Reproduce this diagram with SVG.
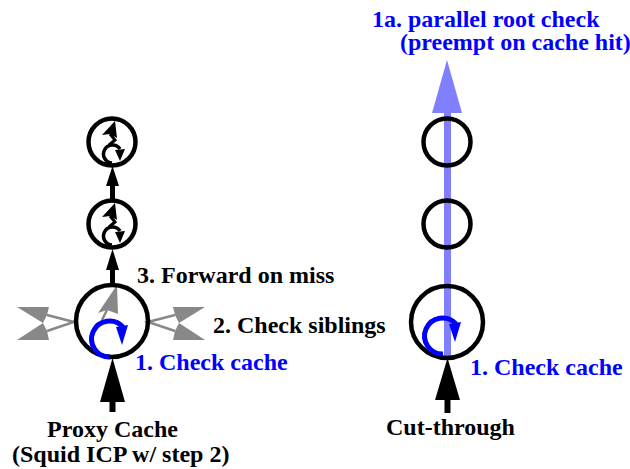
<svg xmlns="http://www.w3.org/2000/svg" xmlns:xlink="http://www.w3.org/1999/xlink" width="630" height="469" viewBox="0 0 630 469">
<style>
.ring{fill:none;stroke:#000;stroke-width:4.5}
.lbl{font-family:"Liberation Serif","Times New Roman",serif;font-weight:bold;font-size:24px;fill:#000}
.blue{fill:#0000ff}
.gray{fill:#888}
.gline{stroke:#888;stroke-width:2.5;fill:none}
.bshaft{stroke:#000;fill:none}
.loopB{fill:none;stroke:#0000ff;stroke-width:5}
.loopK{fill:none;stroke:#000;stroke-width:3.5}
</style>
<defs>
<g id="glyph">
<polygon points="3,-21 -10,-7 -2,-8 5,-4" fill="#000"/>
<polyline points="-2,-8 3,-2 -3,3" fill="none" stroke="#000" stroke-width="3"/>
<path class="loopK" d="M 0 21 A 9 9 0 1 1 8 7"/>
<polygon points="3,8 13,7 8,19" fill="#000"/>
</g>
<g id="bigglyph">
<path class="loopB" d="M 0 18 A 18 18 0 1 1 13 -12"/>
<polygon points="6,-12 18,-14 12,6" fill="#0000ff"/>
</g>
</defs>

<g id="connectors">
<polygon points="112.5,166 106,186 119,186" fill="#000"/>
<line class="bshaft" x1="112.5" y1="184" x2="112.5" y2="200" stroke-width="5"/>
<polygon points="112.5,249 106,270 119,270" fill="#000"/>
<line class="bshaft" x1="112.5" y1="268" x2="112.5" y2="284" stroke-width="5"/>
<polygon points="112.5,358 100,402 125,402" fill="#000"/>
<line class="bshaft" x1="112.5" y1="400" x2="112.5" y2="412" stroke-width="6"/>
<polygon class="gray" points="17,307 49,307 47,315 43,323"/>
<polygon class="gray" points="17,340 49,340 47,331 43,323"/>
<polyline class="gline" points="47,315 74,322 47,331"/>
<polygon class="gray" points="205,307 173,307 175,315 179,323"/>
<polygon class="gray" points="205,340 173,340 175,331 179,323"/>
<polyline class="gline" points="175,315 148,322 175,331"/>
<polygon class="gray" points="117,285 98,313 107,310 118,314"/>
<line class="gline" x1="107" y1="310" x2="102" y2="320"/>
<line x1="447.5" y1="358" x2="447.5" y2="110" stroke="#8080ff" stroke-width="7"/>
<polygon points="447,60 432,113 462,113" fill="#8080ff"/>
<polygon points="447.5,358 435,400 460,400" fill="#000"/>
<line class="bshaft" x1="447.5" y1="398" x2="447.5" y2="413" stroke-width="6"/>
</g>

<g id="left-root">
<circle class="ring" cx="112" cy="142" r="23.5"/>
<use xlink:href="#glyph" href="#glyph" transform="translate(112,142)"/>
</g>
<g id="left-mid">
<circle class="ring" cx="112" cy="224" r="23.5"/>
<use xlink:href="#glyph" href="#glyph" transform="translate(112,224)"/>
</g>
<g id="left-proxy">
<circle class="ring" cx="112" cy="321" r="36"/>
<use xlink:href="#bigglyph" href="#bigglyph" transform="translate(110,339)"/>
</g>
<g id="right-root">
<circle class="ring" cx="447" cy="142" r="23.5"/>
</g>
<g id="right-mid">
<circle class="ring" cx="447" cy="224" r="23.5"/>
</g>
<g id="right-proxy">
<circle class="ring" cx="447" cy="322" r="36"/>
<use xlink:href="#bigglyph" href="#bigglyph" transform="translate(443,336)"/>
</g>

<g id="labels">
<text class="lbl" x="137" y="283">3. Forward on miss</text>
<text class="lbl" x="213" y="333">2. Check siblings</text>
<text class="lbl blue" x="135" y="370">1. Check cache</text>
<text class="lbl blue" x="470" y="375">1. Check cache</text>
<text class="lbl" x="112.5" y="437" text-anchor="middle">Proxy Cache</text>
<text class="lbl" x="12" y="462">(Squid ICP w/ step 2)</text>
<text class="lbl" x="386" y="435">Cut-through</text>
<text class="lbl blue" x="372" y="27">1a. parallel root check</text>
<text class="lbl blue" x="400" y="50">(preempt on cache hit)</text>
</g>
</svg>
